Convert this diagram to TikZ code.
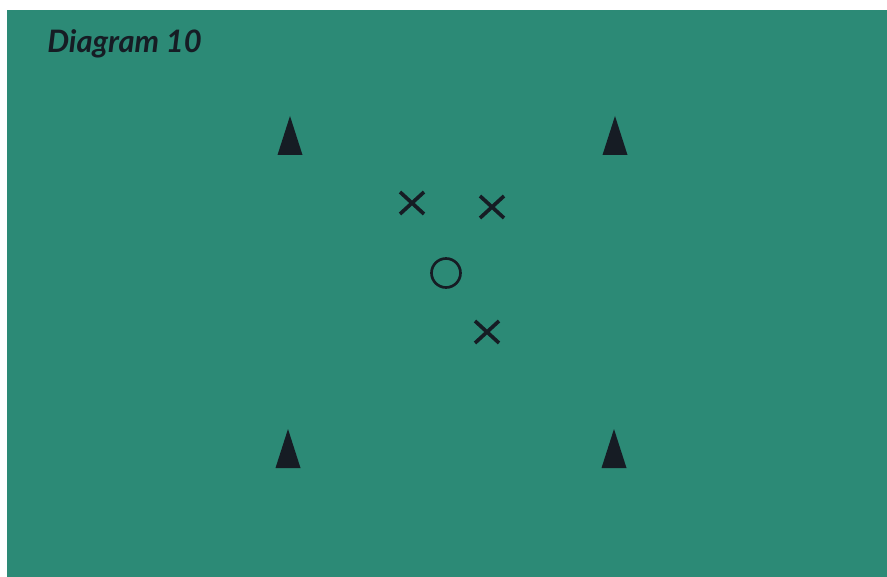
\documentclass[tikz,border=0pt]{standalone}
\usepackage{fontspec}
\newfontfamily\labelfont{Lato}
\definecolor{pitch}{RGB}{44,138,118}
\definecolor{ink}{RGB}{22,28,36}
\begin{document}
\begin{tikzpicture}[x=0.025cm,y=-0.025cm]
  \def\W{887}
  \def\H{577}
  \useasboundingbox (0,0) rectangle (\W,\H);
  \fill[white] (0,0) rectangle (\W,\H);
  \fill[pitch] (7,10) rectangle (\W,\H);
  \node[anchor=base west,inner sep=0pt,text=ink,font=\labelfont\bfseries\itshape\fontsize{22}{25}\selectfont] (title) at (47,53) {Diagram 10};
  % cones
  \foreach \cx/\cy [count=\i] in {290/116,615/116,288/429,614/429}
    \fill[ink] (\cx,\cy) coordinate (cone\i) -- (\cx+12.5,\cy+39) -- (\cx-12.5,\cy+39) -- cycle;
  % defenders
  \foreach \px/\py [count=\i] in {412/203,492/207,487/332}{
    \coordinate (def\i) at (\px,\py);
    \draw[ink,line width=2.6pt] (\px-12,\py-11) -- (\px+12,\py+11) (\px-12,\py+11) -- (\px+12,\py-11);
  }
  % ball carrier
  \draw[ink,line width=1.9pt] (446,273) coordinate (player) circle (14.5);
\end{tikzpicture}
\end{document}
